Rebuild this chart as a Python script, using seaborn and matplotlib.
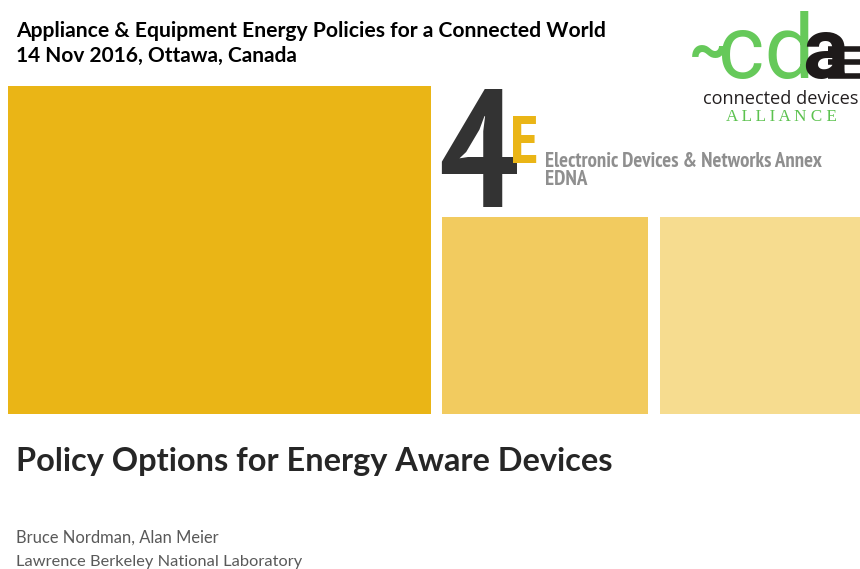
import numpy as np
import pandas as pd
import matplotlib
matplotlib.use('Agg')
import matplotlib.pyplot as plt
import seaborn as sns
from matplotlib import font_manager
from matplotlib.font_manager import FontProperties

sns.set_theme(style='white')

# colour blocks of the slide, in pixels (y grows downward)
block_left = [8, 442, 660]
block_right = [431, 648, 860]
block_top = [86, 217, 217]
block_bottom = [414, 414, 414]
block_colors = ['#EAB516', '#F2CB5F', '#F6DC8F']

header = ['Appliance & Equipment Energy Policies for a Connected World',
          '14 Nov 2016, Ottawa, Canada']
title = 'Policy Options for Energy Aware Devices'
authors = ['Bruce Nordman, Alan Meier', 'Lawrence Berkeley National Laboratory']
annex = ['Electronic Devices & Networks Annex', 'EDNA']
cda_text = ['connected devices', 'A L L I A N C E']

body = 'Lato'


def find_condensed(bold=True):
    # look for a bold condensed / narrow face among the installed fonts
    best = None
    for f in font_manager.fontManager.ttflist:
        fn = f.fname.replace('-', '').replace('_', '')
        if 'Italic' in fn or 'Oblique' in fn:
            continue
        is_bold = str(f.weight) in ('bold', '700')
        if is_bold != bold:
            continue
        cond = 'Narrow' in fn or ('Condensed' in fn and 'Extra' not in fn
                                  and 'Semi' not in fn and 'Ultra' not in fn)
        if cond:
            rank = 0 if 'Narrow' in fn else (1 if 'NotoSans' in fn else 2)
            if best is None or rank < best[0]:
                best = (rank, f.fname)
    if best:
        return FontProperties(fname=best[1])
    return FontProperties(family='Roboto', weight='bold' if bold else 'normal')


cond_bold = find_condensed(True)

fig = plt.figure(figsize=(8.6, 5.69), dpi=100)
ax = fig.add_axes([0, 0, 1, 1])
ax.set_xlim(0, 860)
ax.set_ylim(569, 0)
ax.axis('off')

df = pd.DataFrame({'left': block_left, 'right': block_right,
                   'top': block_top, 'bottom': block_bottom, 'color': block_colors})
ax.bar(df['left'], df['bottom'] - df['top'], width=df['right'] - df['left'],
       bottom=df['top'], align='edge', color=df['color'], linewidth=0)

fig.canvas.draw()
renderer = fig.canvas.get_renderer()


def put(x, y, s, width, **kw):
    # place text and scale the font so it spans the given pixel width
    t = ax.text(x, y, s, va='baseline', ha='left', **kw)
    t.set_fontsize(20)
    w = t.get_window_extent(renderer).width
    t.set_fontsize(20 * width / w)
    return t


# header
put(16, 37, header[0], 589, family=body, weight='bold', color='#000000')
put(16, 62, header[1], 282, family=body, weight='bold', color='#000000')

# title and authors
put(16, 471, title, 596, family=body, weight='bold', color='#262626')
put(16, 543, authors[0], 203, family=body, color='#595959')
put(16, 566, authors[1], 285, family=body, color='#595959')

# 4E logo
put(438, 207, '4', 80, fontproperties=cond_bold, color='#333333')
put(510, 162, 'E', 28, fontproperties=cond_bold, color='#EAB516')
put(545, 167, annex[0], 276, fontproperties=cond_bold, color='#8F8F8F')
put(545, 185, annex[1], 42, fontproperties=cond_bold, color='#8F8F8F')

# connected devices alliance logo
green = '#66C95A'
ax.text(689, 52, '~', fontsize=44, family='Roboto', weight='bold', color=green,
        va='center', ha='left')
ax.text(718, 78, 'cd', fontsize=64, family='Roboto', color=green, va='baseline', ha='left')
ax.text(802, 78, 'a', fontsize=62, family='Roboto', weight='bold', color='#1E1A1A',
        va='baseline', ha='left')
ax.hlines([49, 62, 76], 828, 860, color='#1E1A1A', linewidth=4)
put(703, 104, cda_text[0], 155, family='Open Sans', color='#231F20')
put(726, 121, cda_text[1], 112, family='Liberation Serif', color='#5CC24F')

fig.savefig('out.png', dpi=100)
